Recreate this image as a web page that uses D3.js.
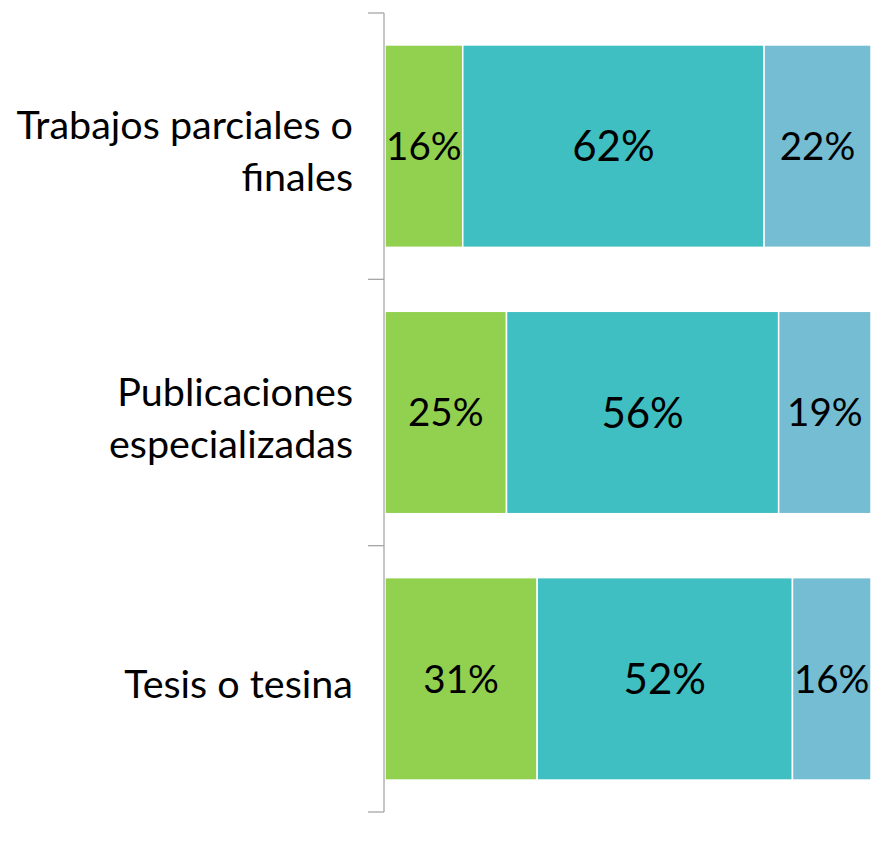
<!DOCTYPE html>
<meta charset="utf-8">
<style>
body { margin: 0; background: #fff; }
svg { font-family: Lato, "Open Sans", sans-serif; }
</style>
<svg width="873" height="859"></svg>
<script src="https://d3js.org/d3.v7.min.js"></script>
<script>
// categories (top to bottom) and the three series, in percent
var categories = ["Trabajos parciales o finales", "Publicaciones especializadas", "Tesis o tesina"];
var labelLines = [["Trabajos parciales o", "finales"], ["Publicaciones", "especializadas"], ["Tesis o tesina"]];
var serie1 = [16, 25, 31];
var serie2 = [62, 56, 52];
var serie3 = [22, 19, 16];
var keys = ["s1", "s2", "s3"];
var colors = ["#92D050", "#3FBFC2", "#74BDD2"];

var svg = d3.select("svg");

var rows = categories.map(function(c, i) {
  return { cat: c, s1: serie1[i], s2: serie2[i], s3: serie3[i] };
});

// 100% stacked, like the original
var stack = d3.stack().keys(keys).offset(d3.stackOffsetExpand);
var series = stack(rows);

var x = d3.scaleLinear().domain([0, 1]).range([385, 871]);
var y = d3.scaleBand().domain(categories).range([13, 812])
    .paddingInner(0.24).paddingOuter(0.12);

var layer = svg.selectAll("g.layer")
  .data(series)
  .enter().append("g")
    .attr("class", "layer")
    .attr("fill", function(d, i) { return colors[i]; });

layer.selectAll("rect")
  .data(function(d) { return d; })
  .enter().append("rect")
    .attr("x", function(d) { return x(d[0]); })
    .attr("y", function(d) { return y(d.data.cat); })
    .attr("width", function(d) { return x(d[1]) - x(d[0]); })
    .attr("height", y.bandwidth())
    .attr("stroke", "#fff")
    .attr("stroke-width", 1.5);

// value labels
layer.each(function(s, si) {
  d3.select(this).selectAll("text")
    .data(s)
    .enter().append("text")
      .attr("x", function(d) { return (x(d[0]) + x(d[1])) / 2; })
      .attr("y", function(d) { return y(d.data.cat) + y.bandwidth() / 2; })
      .attr("dy", "0.36em")
      .attr("text-anchor", "middle")
      .attr("fill", "#000")
      .style("font-size", si === 1 ? "42px" : "38.5px")
      .text(function(d) { return d.data[s.key] + "%"; });
});

// axis: line plus ticks at the band boundaries
var axisG = svg.append("g").attr("stroke", "#A6A6A6").attr("stroke-width", 1.3);
axisG.append("line")
    .attr("x1", 384).attr("x2", 384)
    .attr("y1", y.range()[0]).attr("y2", y.range()[1]);
var bounds = d3.range(categories.length + 1).map(function(i) { return y.range()[0] + i * y.step(); });
axisG.selectAll("line.tick")
  .data(bounds)
  .enter().append("line")
    .attr("class", "tick")
    .attr("x1", 368).attr("x2", 384)
    .attr("y1", function(d) { return d; })
    .attr("y2", function(d) { return d; });

// category labels
var lineH = 52;
svg.selectAll("text.cat")
  .data(categories)
  .enter().append("text")
    .attr("class", "cat")
    .attr("text-anchor", "end")
    .style("font-size", "39.5px")
    .attr("fill", "#000")
  .selectAll("tspan")
    .data(function(d, i) {
      var lines = labelLines[i];
      var mid = y(d) + y.bandwidth() / 2 + 5;
      return lines.map(function(l, j) { return { t: l, y: mid + (j - (lines.length - 1) / 2) * lineH }; });
    })
  .enter().append("tspan")
    .attr("x", 353)
    .attr("y", function(d) { return d.y; })
    .attr("dy", "0.36em")
    .text(function(d) { return d.t; });
</script>
